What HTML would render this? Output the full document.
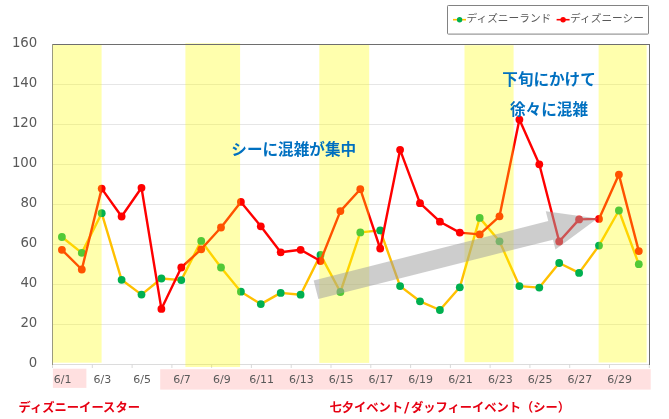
<!DOCTYPE html>
<html lang="ja"><head><meta charset="utf-8"><title>chart</title>
<style>
html,body{margin:0;padding:0;background:#fff;}
body{width:669px;height:419px;overflow:hidden;}
svg{display:block;}
.num{font-family:"DejaVu Sans","Liberation Sans",sans-serif;fill:#595959;}
.jp{font-family:"Liberation Sans","Noto Sans CJK JP",sans-serif;}
</style></head><body>
<svg width="669" height="419" viewBox="0 0 669 419">
<rect width="669" height="419" fill="#fff"/>
<!-- pink bands on x axis -->
<rect x="52.9" y="368.7" width="33.5" height="19.2" fill="#ffe0e0"/>
<rect x="160.2" y="369.2" width="490.5" height="20.4" fill="#ffe0e0"/>
<!-- grid -->
<rect x="52" y="324" width="598" height="1" fill="#e6e6e6"/><rect x="52" y="284" width="598" height="1" fill="#e6e6e6"/><rect x="52" y="244" width="598" height="1" fill="#e6e6e6"/><rect x="52" y="204" width="598" height="1" fill="#e6e6e6"/><rect x="52" y="164" width="598" height="1" fill="#e6e6e6"/><rect x="52" y="124" width="598" height="1" fill="#e6e6e6"/><rect x="52" y="84" width="598" height="1" fill="#e6e6e6"/>
<rect x="52" y="364" width="598" height="1" fill="#dcdcdc"/>
<rect x="52.0" y="364" width="1" height="4" fill="#d9d9d9"/><rect x="91.8" y="364" width="1" height="4" fill="#d9d9d9"/><rect x="131.6" y="364" width="1" height="4" fill="#d9d9d9"/><rect x="171.4" y="364" width="1" height="4" fill="#d9d9d9"/><rect x="211.1" y="364" width="1" height="4" fill="#d9d9d9"/><rect x="250.9" y="364" width="1" height="4" fill="#d9d9d9"/><rect x="290.7" y="364" width="1" height="4" fill="#d9d9d9"/><rect x="330.5" y="364" width="1" height="4" fill="#d9d9d9"/><rect x="370.3" y="364" width="1" height="4" fill="#d9d9d9"/><rect x="410.1" y="364" width="1" height="4" fill="#d9d9d9"/><rect x="449.9" y="364" width="1" height="4" fill="#d9d9d9"/><rect x="489.6" y="364" width="1" height="4" fill="#d9d9d9"/><rect x="529.4" y="364" width="1" height="4" fill="#d9d9d9"/><rect x="569.2" y="364" width="1" height="4" fill="#d9d9d9"/><rect x="609.0" y="364" width="1" height="4" fill="#d9d9d9"/><rect x="648.8" y="364" width="1" height="4" fill="#d9d9d9"/>
<!-- series -->
<polyline points="61.9,237.0 81.8,252.9 101.7,213.2 121.6,279.8 141.5,294.6 161.4,278.5 181.3,280.1 201.2,240.9 221.0,267.5 240.9,291.7 260.8,304.1 280.7,292.9 300.6,294.7 320.5,254.9 340.4,292.0 360.3,232.4 380.2,230.4 400.1,286.1 420.0,301.3 439.9,310.0 459.8,287.3 479.7,217.9 499.5,241.3 519.4,286.1 539.3,287.6 559.2,263.0 579.1,272.9 599.0,245.6 618.9,210.5 638.8,264.2" fill="none" stroke="#ffc000" stroke-width="2.4" stroke-linejoin="round" stroke-linecap="round"/>
<circle cx="61.9" cy="237.0" r="3.9" fill="#00b050"/><circle cx="81.8" cy="252.9" r="3.9" fill="#00b050"/><circle cx="101.7" cy="213.2" r="3.9" fill="#00b050"/><circle cx="121.6" cy="279.8" r="3.9" fill="#00b050"/><circle cx="141.5" cy="294.6" r="3.9" fill="#00b050"/><circle cx="161.4" cy="278.5" r="3.9" fill="#00b050"/><circle cx="181.3" cy="280.1" r="3.9" fill="#00b050"/><circle cx="201.2" cy="240.9" r="3.9" fill="#00b050"/><circle cx="221.0" cy="267.5" r="3.9" fill="#00b050"/><circle cx="240.9" cy="291.7" r="3.9" fill="#00b050"/><circle cx="260.8" cy="304.1" r="3.9" fill="#00b050"/><circle cx="280.7" cy="292.9" r="3.9" fill="#00b050"/><circle cx="300.6" cy="294.7" r="3.9" fill="#00b050"/><circle cx="320.5" cy="254.9" r="3.9" fill="#00b050"/><circle cx="340.4" cy="292.0" r="3.9" fill="#00b050"/><circle cx="360.3" cy="232.4" r="3.9" fill="#00b050"/><circle cx="380.2" cy="230.4" r="3.9" fill="#00b050"/><circle cx="400.1" cy="286.1" r="3.9" fill="#00b050"/><circle cx="420.0" cy="301.3" r="3.9" fill="#00b050"/><circle cx="439.9" cy="310.0" r="3.9" fill="#00b050"/><circle cx="459.8" cy="287.3" r="3.9" fill="#00b050"/><circle cx="479.7" cy="217.9" r="3.9" fill="#00b050"/><circle cx="499.5" cy="241.3" r="3.9" fill="#00b050"/><circle cx="519.4" cy="286.1" r="3.9" fill="#00b050"/><circle cx="539.3" cy="287.6" r="3.9" fill="#00b050"/><circle cx="559.2" cy="263.0" r="3.9" fill="#00b050"/><circle cx="579.1" cy="272.9" r="3.9" fill="#00b050"/><circle cx="599.0" cy="245.6" r="3.9" fill="#00b050"/><circle cx="618.9" cy="210.5" r="3.9" fill="#00b050"/><circle cx="638.8" cy="264.2" r="3.9" fill="#00b050"/>
<polyline points="61.9,249.8 81.8,269.5 101.7,188.6 121.6,216.5 141.5,187.8 161.4,308.9 181.3,267.5 201.2,249.3 221.0,227.5 240.9,201.9 260.8,226.3 280.7,252.3 300.6,249.8 320.5,261.0 340.4,211.1 360.3,189.2 380.2,248.5 400.1,149.8 420.0,203.2 439.9,221.7 459.8,232.6 479.7,234.4 499.5,216.3 519.4,119.6 539.3,164.3 559.2,241.5 579.1,219.4 599.0,218.9 618.9,174.6 638.8,251.1" fill="none" stroke="#ff0000" stroke-width="2.4" stroke-linejoin="round" stroke-linecap="round"/>
<circle cx="61.9" cy="249.8" r="3.9" fill="#ff0000"/><circle cx="81.8" cy="269.5" r="3.9" fill="#ff0000"/><circle cx="101.7" cy="188.6" r="3.9" fill="#ff0000"/><circle cx="121.6" cy="216.5" r="3.9" fill="#ff0000"/><circle cx="141.5" cy="187.8" r="3.9" fill="#ff0000"/><circle cx="161.4" cy="308.9" r="3.9" fill="#ff0000"/><circle cx="181.3" cy="267.5" r="3.9" fill="#ff0000"/><circle cx="201.2" cy="249.3" r="3.9" fill="#ff0000"/><circle cx="221.0" cy="227.5" r="3.9" fill="#ff0000"/><circle cx="240.9" cy="201.9" r="3.9" fill="#ff0000"/><circle cx="260.8" cy="226.3" r="3.9" fill="#ff0000"/><circle cx="280.7" cy="252.3" r="3.9" fill="#ff0000"/><circle cx="300.6" cy="249.8" r="3.9" fill="#ff0000"/><circle cx="320.5" cy="261.0" r="3.9" fill="#ff0000"/><circle cx="340.4" cy="211.1" r="3.9" fill="#ff0000"/><circle cx="360.3" cy="189.2" r="3.9" fill="#ff0000"/><circle cx="380.2" cy="248.5" r="3.9" fill="#ff0000"/><circle cx="400.1" cy="149.8" r="3.9" fill="#ff0000"/><circle cx="420.0" cy="203.2" r="3.9" fill="#ff0000"/><circle cx="439.9" cy="221.7" r="3.9" fill="#ff0000"/><circle cx="459.8" cy="232.6" r="3.9" fill="#ff0000"/><circle cx="479.7" cy="234.4" r="3.9" fill="#ff0000"/><circle cx="499.5" cy="216.3" r="3.9" fill="#ff0000"/><circle cx="519.4" cy="119.6" r="3.9" fill="#ff0000"/><circle cx="539.3" cy="164.3" r="3.9" fill="#ff0000"/><circle cx="559.2" cy="241.5" r="3.9" fill="#ff0000"/><circle cx="579.1" cy="219.4" r="3.9" fill="#ff0000"/><circle cx="599.0" cy="218.9" r="3.9" fill="#ff0000"/><circle cx="618.9" cy="174.6" r="3.9" fill="#ff0000"/><circle cx="638.8" cy="251.1" r="3.9" fill="#ff0000"/>
<!-- yellow bands -->
<g fill="#ffff00" fill-opacity="0.32"><rect x="52.9" y="45" width="48.7" height="317.7"/><rect x="185.4" y="43.2" width="54.7" height="323.8"/><rect x="319.3" y="45" width="49.9" height="317.9"/><rect x="464.5" y="45.2" width="49.1" height="317.0"/><rect x="598.6" y="45" width="48.0" height="317.5"/></g>
<!-- arrow -->
<polygon transform="translate(316 289.75) rotate(-14.19)" points="0,-9.6 242.0,-9.6 242.0,-19.7 290.3,0 242.0,19.7 242.0,9.6 0,9.6" fill="rgb(160,160,160)" fill-opacity="0.52"/>
<!-- plot border -->
<rect x="52" y="44" width="598" height="1" fill="#6e6e6e"/>
<rect x="649" y="44" width="1" height="321" fill="#6e6e6e"/>
<rect x="52" y="44" width="1" height="321" fill="#9a9a80"/>
<!-- axis labels -->
<g class="num" font-size="13.3"><text x="37.3" y="367.4" text-anchor="end">0</text><text x="37.3" y="327.4" text-anchor="end">20</text><text x="37.3" y="287.4" text-anchor="end">40</text><text x="37.3" y="247.4" text-anchor="end">60</text><text x="37.3" y="207.4" text-anchor="end">80</text><text x="37.3" y="167.4" text-anchor="end">100</text><text x="37.3" y="127.4" text-anchor="end">120</text><text x="37.3" y="87.4" text-anchor="end">140</text><text x="37.3" y="47.4" text-anchor="end">160</text></g>
<g class="num" font-size="11"><text x="62.6" y="383" text-anchor="middle">6/1</text><text x="102.4" y="383" text-anchor="middle">6/3</text><text x="142.2" y="383" text-anchor="middle">6/5</text><text x="182.0" y="383" text-anchor="middle">6/7</text><text x="221.8" y="383" text-anchor="middle">6/9</text><text x="261.6" y="383" text-anchor="middle">6/11</text><text x="301.4" y="383" text-anchor="middle">6/13</text><text x="341.1" y="383" text-anchor="middle">6/15</text><text x="380.9" y="383" text-anchor="middle">6/17</text><text x="420.7" y="383" text-anchor="middle">6/19</text><text x="460.5" y="383" text-anchor="middle">6/21</text><text x="500.3" y="383" text-anchor="middle">6/23</text><text x="540.1" y="383" text-anchor="middle">6/25</text><text x="579.9" y="383" text-anchor="middle">6/27</text><text x="619.7" y="383" text-anchor="middle">6/29</text></g>
<!-- legend -->
<rect x="447.5" y="5.5" width="201" height="28.6" rx="0.8" fill="#fff" stroke="#828282" stroke-width="1"/>
<line x1="453" y1="19.7" x2="466" y2="19.7" stroke="#ffc000" stroke-width="1.6"/>
<circle cx="459.6" cy="19.7" r="2.7" fill="#00b050"/>
<text class="jp" x="466.5" y="22.2" font-size="10.7" fill="#595959">ディズニーランド</text>
<line x1="556.6" y1="19.7" x2="569.6" y2="19.7" stroke="#ff0000" stroke-width="1.6"/>
<circle cx="563.1" cy="19.7" r="2.7" fill="#ff0000"/>
<text class="jp" x="570.1" y="22.2" font-size="10.7" fill="#595959">ディズニーシー</text>
<!-- annotations -->
<g class="jp" font-weight="bold" font-size="15.6" fill="#0070c0" text-anchor="middle">
<text x="293.7" y="154.7">シーに混雑が集中</text>
<text x="549" y="84.5">下旬にかけて</text>
<text x="549" y="115.3">徐々に混雑</text>
</g>
<g class="jp" font-weight="bold" font-size="12.25" fill="#e60012">
<text x="18.5" y="411.5" font-size="12.3">ディズニーイースター</text>
<text x="329.5" y="411.7">七夕イベント<tspan dx="1" font-family="DejaVu Sans" font-size="14.5">/</tspan><tspan dx="1.6">ダッフィーイベント（シー）</tspan></text>
</g>
</svg>
</body></html>
